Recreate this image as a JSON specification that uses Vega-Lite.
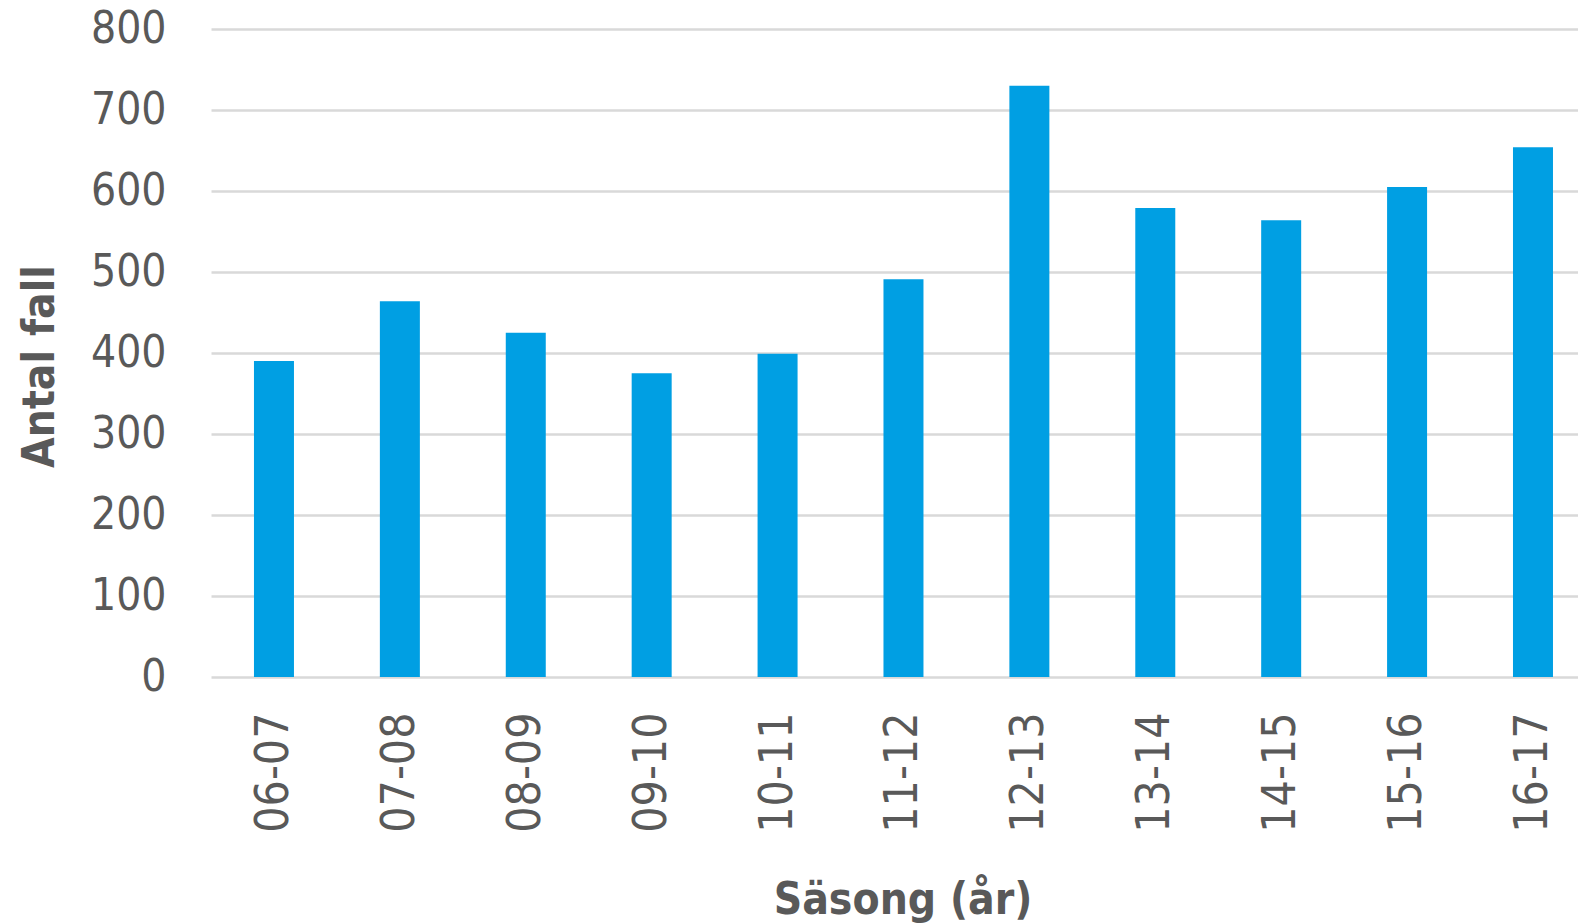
{
  "$schema": "https://vega.github.io/schema/vega-lite/v6.json",
  "autosize": "none",
  "width": 1367,
  "height": 648,
  "padding": {"left": 211, "top": 29, "right": 0, "bottom": 246},
  "background": "white",
  "config": {
    "view": {"stroke": null},
    "font": "DejaVu Sans Condensed"
  },
  "data": {
    "values": [
      {"season": "06-07", "cases": 390},
      {"season": "07-08", "cases": 464},
      {"season": "08-09", "cases": 425},
      {"season": "09-10", "cases": 375},
      {"season": "10-11", "cases": 399},
      {"season": "11-12", "cases": 491},
      {"season": "12-13", "cases": 730},
      {"season": "13-14", "cases": 579},
      {"season": "14-15", "cases": 564},
      {"season": "15-16", "cases": 605},
      {"season": "16-17", "cases": 654}
    ]
  },
  "mark": {"type": "bar", "color": "#009fe3"},
  "encoding": {
    "x": {
      "field": "season",
      "type": "nominal",
      "sort": null,
      "scale": {"paddingInner": 0.6823, "paddingOuter": 0.27, "align": 0.632, "round": false},
      "axis": {
        "title": "Säsong (år)",
        "titleFont": "DejaVu Sans Condensed",
        "titleFontSize": 44,
        "titleFontWeight": "bold",
        "titleColor": "#595959",
        "titleX": 691.5,
        "titleY": 236,
        "titleBaseline": "alphabetic",
        "titleAlign": "center",
        "labelFont": "DejaVu Sans Condensed",
        "labelFontSize": 46,
        "labelColor": "#595959",
        "labelAngle": -90,
        "labelPadding": 35,
        "ticks": false,
        "tickSize": 0,
        "domain": false,
        "grid": false
      }
    },
    "y": {
      "field": "cases",
      "type": "quantitative",
      "scale": {"domain": [0, 800], "nice": false},
      "axis": {
        "title": "Antal fall",
        "titleFont": "DejaVu Sans Condensed",
        "titleFontSize": 44,
        "titleFontWeight": "bold",
        "titleColor": "#595959",
        "titleAngle": -90,
        "titleX": -158,
        "titleY": 337,
        "titleBaseline": "alphabetic",
        "titleAlign": "center",
        "values": [0, 100, 200, 300, 400, 500, 600, 700, 800],
        "labelFont": "DejaVu Sans Condensed",
        "labelFontSize": 44,
        "labelColor": "#595959",
        "labelPadding": 45,
        "ticks": false,
        "tickSize": 0,
        "domain": false,
        "grid": true,
        "gridColor": "#d9d9d9",
        "gridWidth": 2.5
      }
    }
  }
}
